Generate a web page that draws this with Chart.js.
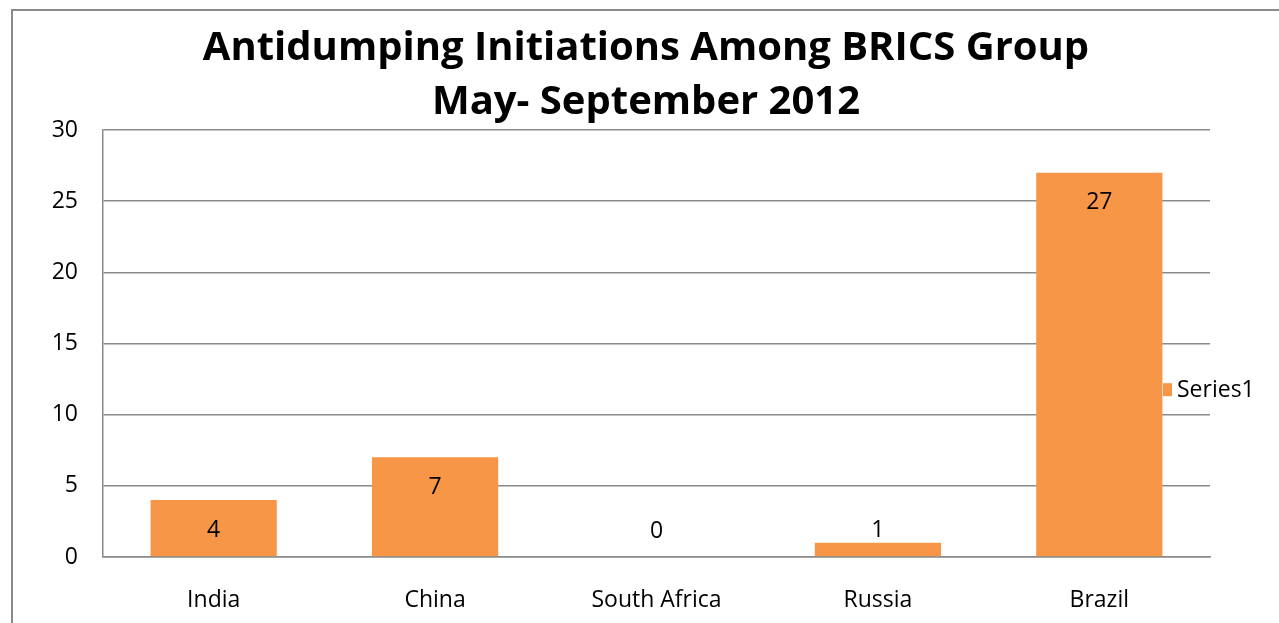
<!DOCTYPE html>
<html lang="en">
<head>
  <meta charset="UTF-8">
  <title>Antidumping Initiations Among BRICS Group</title>
  <script src="https://cdn.jsdelivr.net/npm/chart.js@4.4.0/dist/chart.umd.min.js"></script>
  <style>
    html, body { margin: 0; padding: 0; background: #fff; overflow: hidden; }
    #wrap { position: relative; width: 1279px; height: 623px; }
    #frame {
      position: absolute; left: 11px; top: 9px; width: 1300px; height: 700px;
      border-left: 2px solid #8a8a8a; border-top: 2px solid #8a8a8a;
      pointer-events: none;
    }
    canvas { position: absolute; left: 0; top: 0; }
  </style>
</head>
<body>
  <div id="wrap">
    <canvas id="bricsChart" width="1279" height="623"></canvas>
    <div id="frame"></div>
  </div>

  <script>
    // chart data
    const countries = ["India", "China", "South Africa", "Russia", "Brazil"];
    const initiations = [4, 7, 0, 1, 27];
    const yTicks = [0, 5, 10, 15, 20, 25, 30];
    const seriesName = "Series1";
    const titleLines = ["Antidumping Initiations Among BRICS Group", "May- September 2012"];

    const FONT = "'Open Sans', 'Noto Sans', sans-serif";
    const ORANGE = "#f79646";
    const GRID = "#8a8a8a";
    const TXT = 23;

    // title centred on the whole frame, not on the plot
    const frameTitle = {
      id: 'frameTitle',
      afterDraw(chart) {
        const ctx = chart.ctx;
        ctx.save();
        ctx.font = "bold 40px " + FONT;
        ctx.fillStyle = "#000";
        ctx.textAlign = "center";
        ctx.textBaseline = "middle";
        ctx.fillText(titleLines[0], 646, 49);
        ctx.fillText(titleLines[1], 646, 103);
        ctx.restore();
      }
    };

    // value labels on the bars (Excel "inside end")
    const barLabels = {
      id: 'barLabels',
      afterDatasetsDraw(chart) {
        const ctx = chart.ctx;
        const meta = chart.getDatasetMeta(0);
        ctx.save();
        ctx.font = TXT + "px " + FONT;
        ctx.fillStyle = "#000";
        ctx.textAlign = "center";
        ctx.textBaseline = "middle";
        meta.data.forEach((bar, i) => {
          const h = bar.base - bar.y;
          const y = h >= 40 ? bar.y + 30 : bar.base - 26;
          ctx.fillText(String(initiations[i]), bar.x, y);
        });
        ctx.restore();
      }
    };

    // legend at the right, partly over the plot like in Excel
    const sideLegend = {
      id: 'sideLegend',
      afterDraw(chart) {
        const ctx = chart.ctx;
        const area = chart.chartArea;
        const ds = chart.data.datasets[0];
        const x = 1163, y = area.top + (area.bottom - area.top) * 0.607;
        ctx.save();
        ctx.fillStyle = ds.backgroundColor;
        ctx.fillRect(x, y - 6, 9, 13);
        ctx.font = TXT + "px " + FONT;
        ctx.fillStyle = "#000";
        ctx.textAlign = "left";
        ctx.textBaseline = "middle";
        ctx.fillText(ds.label, x + 14, y + 1);
        ctx.restore();
      }
    };

    new Chart(document.getElementById('bricsChart'), {
      type: 'bar',
      data: {
        labels: countries,
        datasets: [{
          label: seriesName,
          data: initiations,
          backgroundColor: ORANGE,
          borderWidth: 0,
          categoryPercentage: 1,
          barPercentage: 0.57
        }]
      },
      options: {
        responsive: false,
        animation: false,
        layout: { padding: { left: 0, right: 69, top: 130, bottom: 0 } },
        plugins: {
          legend: { display: false },
          tooltip: { enabled: false },
          title: { display: false }
        },
        scales: {
          x: {
            grid: { display: false, drawTicks: false },
            border: { display: true, color: GRID, width: 1.5 },
            ticks: { color: "#000", font: { family: FONT, size: TXT }, padding: 30 },
            afterFit(scale) { scale.height = 66; }
          },
          y: {
            min: 0,
            max: 30,
            afterBuildTicks(scale) { scale.ticks = yTicks.map(v => ({ value: v })); },
            grid: { color: GRID, lineWidth: 1.5, drawTicks: false },
            border: { display: true, color: GRID, width: 1.5 },
            ticks: { color: "#000", font: { family: FONT, size: TXT }, padding: 25 },
            afterFit(scale) { scale.width = 103; }
          }
        }
      },
      plugins: [barLabels, sideLegend, frameTitle]
    });
  </script>
</body>
</html>
